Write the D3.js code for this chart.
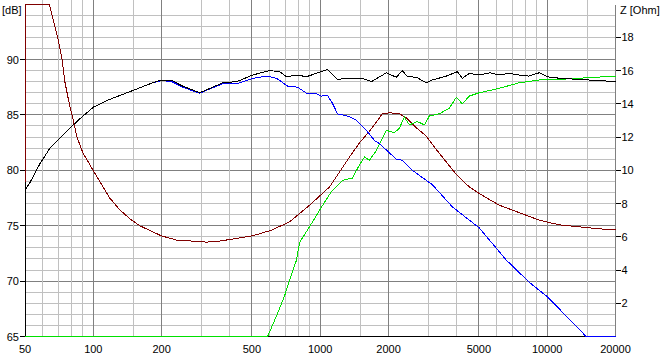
<!DOCTYPE html>
<html>
<head>
<meta charset="utf-8">
<script src="https://cdn.jsdelivr.net/npm/d3@7"></script>
<style>
  body { margin: 0; background: #fff; }
  svg { display: block; }
  text { font-family: Arial, "Liberation Sans", sans-serif; font-size: 11px; fill: #000; }
</style>
</head>
<body>
<div id="chart"></div>
<script>
var width = 660;
var height = 358;

// frequency ticks (labels) and grid
var freqLabels = [50, 100, 200, 500, 1000, 2000, 5000, 10000, 20000];
var freqGrid = [60, 70, 80, 90, 100, 150, 200, 300, 400, 500, 600, 700, 800, 900,
  1000, 1500, 2000, 3000, 4000, 5000, 6000, 7000, 8000, 9000, 10000, 15000];
var dbTicks = [65, 70, 75, 80, 85, 90];
var ohmTicks = [2, 4, 6, 8, 10, 12, 14, 16, 18];

// total SPL (black), dB
var splFreq = [50, 52.6, 58.2, 64.4, 71.3, 78.9, 85.6, 100, 118, 145, 182.8, 200, 221.7, 247.8, 294,
  335.8, 371.6, 428.2, 503.6, 598.4, 662, 710.7, 786.5, 870, 993, 1077, 1191, 1305, 1535, 1681,
  1957, 2165, 2300, 2421, 2652, 2935, 3119, 3594, 4019, 4227, 4537, 5021, 5600, 6150, 6800, 7530,
  8300, 9220, 10200, 11500, 13830, 16900, 20000];
var splDb = [78.2, 78.9, 80.6, 82.0, 82.9, 83.8, 84.5, 85.7, 86.4, 87.1, 87.9, 88.15, 88.1, 87.6, 87.0,
  87.5, 87.9, 88.0, 88.6, 89.0, 88.9, 88.45, 88.6, 88.45, 88.85, 89.1, 88.2, 88.3, 88.3, 88.0,
  88.8, 88.4, 89.0, 88.45, 88.4, 87.9, 88.15, 88.5, 88.9, 88.3, 88.75, 88.6, 88.8, 88.6, 88.75, 88.6,
  88.5, 88.8, 88.4, 88.3, 88.2, 88.1, 88.0];

// woofer SPL (blue), dB
var wooFreq = [50, 52.6, 58.2, 64.4, 71.3, 78.9, 85.6, 100, 118, 145, 182.8, 200, 221.7, 247.8, 294,
  335.8, 371.6, 428.2, 503.6, 580, 642, 718, 794, 879, 963, 1013, 1077, 1132, 1191, 1345, 1444,
  1598, 1732, 1823, 2165, 2300, 2546, 3119, 3820, 5021, 6600, 8330, 10000, 11290, 14850, 20000];
var wooDb = [78.2, 78.9, 80.6, 82.0, 82.9, 83.8, 84.5, 85.7, 86.4, 87.1, 87.9, 88.1, 88.0, 87.5, 86.95,
  87.45, 87.8, 87.8, 88.3, 88.5, 88.3, 87.6, 87.5, 86.9, 86.9, 86.7, 86.75, 86.05, 85.1, 84.85, 84.5,
  83.6, 82.7, 82.4, 81.0, 80.9, 80.0, 78.7, 76.7, 74.8, 71.9, 69.9, 68.6, 67.5, 65.0, 65.0];

// tweeter SPL (green), dB
var twFreq = [50, 586, 598, 649, 697, 733, 786, 811, 897, 993, 1121, 1253, 1387, 1489, 1566, 1647,
  1768, 1957, 2122, 2232, 2348, 2470, 2679, 2876, 3025, 3348, 3706, 3979, 4227, 4537, 5021, 6150,
  7530, 9220, 11290, 15000, 20000];
var twDb = [65, 65, 65.4, 67.1, 68.7, 70.1, 71.9, 73.5, 74.9, 76.4, 78.1, 79.1, 79.3, 80.5, 81.2, 80.9,
  81.8, 83.6, 83.4, 83.8, 84.8, 84.1, 84.4, 84.1, 84.9, 85.1, 85.6, 86.6, 86.0, 86.7, 87.0, 87.4,
  87.9, 88.15, 88.2, 88.35, 88.5];

// impedance (dark red), Ohm
var zFreq = [50, 50, 64, 66.4, 69.9, 72.8, 75.0, 78.9, 81.3, 84.7, 90.0, 96.6, 106.9, 118,
  130.9, 145, 160.3, 200, 233.2, 266, 316, 349.6, 411.2, 503.6, 610.6, 732.6, 897, 993, 1099, 1216,
  1345, 1489, 1647, 1879, 2018, 2232, 2396, 2652, 2935, 3248, 3594, 3979, 4537, 5021, 6150, 7530,
  9220, 11290, 13830, 16930, 20000];
var zOhm = [9.3, 20, 20, 19.1, 17.9, 16.7, 15.3, 13.8, 13.1, 12.0, 11.05, 10.33, 9.31, 8.34,
  7.62, 7.08, 6.66, 6.05, 5.8, 5.75, 5.68, 5.72, 5.86, 6.06, 6.4, 6.9, 7.9, 8.45, 9.0, 9.9,
  10.8, 11.65, 12.35, 13.4, 13.46, 13.4, 13.16, 12.56, 12.05, 11.25, 10.5, 9.74, 9.0, 8.6, 7.9, 7.45,
  7.0, 6.72, 6.6, 6.48, 6.42];

var plotLeft = 25, plotRight = 615.5, plotTop = 4.1, plotBottom = 336.5;

var svg = d3.select("#chart").append("svg")
  .attr("width", width)
  .attr("height", height);

var x = d3.scaleLog().domain([50, 20000]).range([plotLeft, plotRight]);
var yDb = d3.scaleLinear().domain([65, 95]).range([plotBottom, plotTop]);
var yZ = d3.scaleLinear().domain([0, 20]).range([plotBottom, plotTop]);

function px(v) { return Math.floor(v) + 0.5; }

var grid = svg.append("g").attr("shape-rendering", "crispEdges");

// horizontal grid, every dB
d3.range(66, 95).forEach(function(d) {
  grid.append("line")
    .attr("x1", plotLeft).attr("x2", plotRight)
    .attr("y1", px(yDb(d))).attr("y2", px(yDb(d)))
    .attr("stroke", d % 5 === 0 ? "#808080" : "#c0c0c0");
});

// vertical grid
freqGrid.forEach(function(f) {
  var dark = freqLabels.indexOf(f) >= 0;
  grid.append("line")
    .attr("x1", px(x(f))).attr("x2", px(x(f)))
    .attr("y1", 0).attr("y2", plotBottom)
    .attr("stroke", dark ? "#808080" : "#c0c0c0");
});

// axes
grid.append("line").attr("x1", px(plotLeft)).attr("x2", px(plotLeft))
  .attr("y1", 5).attr("y2", px(plotBottom)).attr("stroke", "#000");
grid.append("line").attr("x1", px(plotRight)).attr("x2", px(plotRight))
  .attr("y1", 5).attr("y2", px(plotBottom)).attr("stroke", "#808080");
grid.append("line").attr("x1", plotLeft).attr("x2", plotRight)
  .attr("y1", px(plotBottom)).attr("y2", px(plotBottom)).attr("stroke", "#000");

// left ticks + labels
dbTicks.forEach(function(d) {
  grid.append("line").attr("x1", plotLeft - 5).attr("x2", plotLeft)
    .attr("y1", px(yDb(d))).attr("y2", px(yDb(d))).attr("stroke", "#000");
  svg.append("text").attr("x", 19).attr("y", yDb(d) + 4)
    .attr("text-anchor", "end").text(d);
});

// right ticks + labels
ohmTicks.forEach(function(d) {
  grid.append("line").attr("x1", plotRight).attr("x2", plotRight + 5)
    .attr("y1", px(yZ(d))).attr("y2", px(yZ(d))).attr("stroke", "#000");
  svg.append("text").attr("x", plotRight + 6).attr("y", yZ(d) + 4).text(d);
});

// bottom labels
freqLabels.forEach(function(f) {
  svg.append("text").attr("x", x(f)).attr("y", 353)
    .attr("text-anchor", "middle").text(f);
});

svg.append("text").attr("x", 2).attr("y", 14).text("[dB]");
svg.append("text").attr("x", 620).attr("y", 14).text("Z [Ohm]");

// curves
function pairs(fs, vs) {
  return fs.map(function(f, i) { return [f, vs[i]]; });
}

var lineDb = d3.line()
  .x(function(d) { return x(d[0]); })
  .y(function(d) { return yDb(d[1]); });
var lineZ = d3.line()
  .x(function(d) { return x(d[0]); })
  .y(function(d) { return yZ(d[1]); });

var curves = svg.append("g")
  .attr("fill", "none")
  .attr("stroke-width", 1)
  .attr("shape-rendering", "crispEdges");

curves.append("path").attr("d", lineZ(pairs(zFreq, zOhm))).attr("stroke", "#800000");
curves.append("path").attr("d", lineDb(pairs(twFreq, twDb))).attr("stroke", "#00e000");
curves.append("path").attr("d", lineDb(pairs(wooFreq, wooDb))).attr("stroke", "#0000ff");
curves.append("path").attr("d", lineDb(pairs(splFreq, splDb))).attr("stroke", "#000");
</script>
</body>
</html>
